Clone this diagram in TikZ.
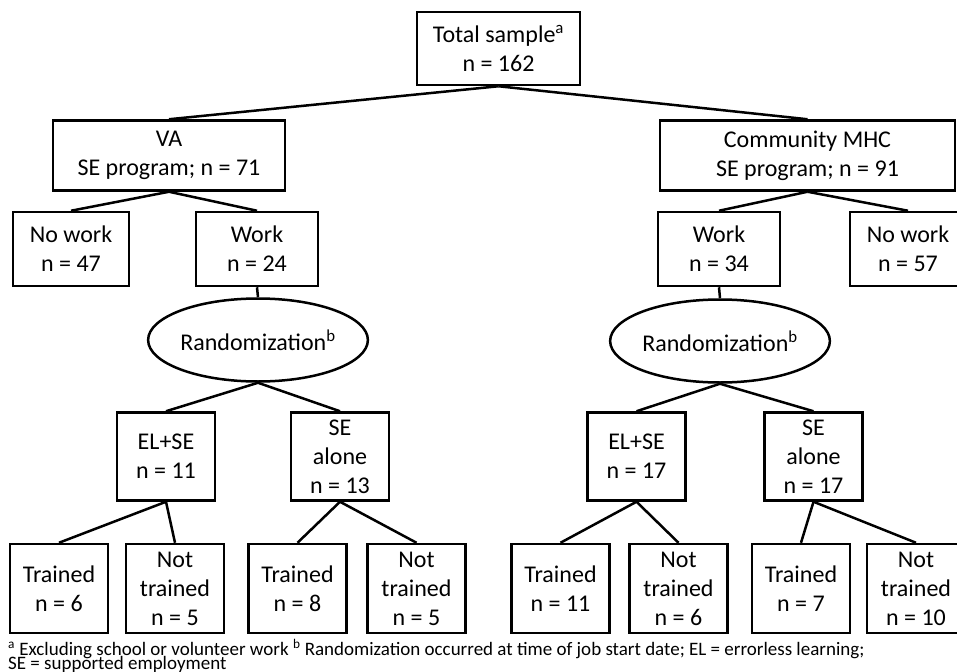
\documentclass[tikz,border=0pt]{standalone}
\usepackage{fontspec}
\setmainfont{Carlito}
\usetikzlibrary{shapes.geometric}
\tikzset{
  groupbox/.style={
    rectangle, draw=black, line width=2.5pt,
    minimum width=#1, minimum height=70pt,
    font=\fontsize{24}{29}\selectfont, align=center,
    inner sep=0pt
  },
  groupbox/.default=232pt,
  workbox/.style={
    rectangle, draw=black, line width=2.5pt,
    minimum width=#1, minimum height=74pt,
    font=\fontsize{24}{29}\selectfont, align=center,
    inner sep=0pt
  },
  workbox/.default=120pt,
  armbox/.style={
    rectangle, draw=black, line width=2.5pt,
    minimum width=98pt, minimum height=#1,
    font=\fontsize{24}{29}\selectfont, align=center,
    inner sep=0pt
  },
  armbox/.default=88pt,
  randnode/.style={
    ellipse, draw=black, line width=2.5pt,
    minimum width=194pt, minimum height=83pt,
    font=\fontsize{24}{29}\selectfont, inner sep=0pt
  },
  link/.style={line width=2.5pt},
  footnode/.style={
    anchor=base west, inner sep=0pt,
    font=\fontsize{19}{14}\selectfont
  },
}

\begin{document}
\begin{tikzpicture}[x=1pt, y=-1pt]
  \useasboundingbox (0,0) rectangle (957,671);
  \clip (0,0) rectangle (957,671);

  % Total sample
  \node[groupbox=163pt, minimum height=73pt] (total) at (498.5,48.5)
    {Total sample\textsuperscript{a}\\n = 162};

  % Programs
  \node[groupbox] (va) at (169,155.5) {VA\\SE program; n = 71};
  \node[groupbox=295pt] (mhc) at (807.5,155.5) {Community MHC\\SE program; n = 91};

  % Work / no work
  \node[workbox=116pt] (vanowork) at (71,249) {No work\\n = 47};
  \node[workbox=122pt] (vawork) at (257,249) {Work\\n = 24};
  \node[workbox=122pt] (mhcwork) at (719,249) {Work\\n = 34};
  \node[workbox=116pt] (mhcnowork) at (908,249) {No work\\n = 57};

  % Randomization
  \node[randnode] (varand) at (258,340) {Randomization\textsuperscript{b}};
  \node[randnode] (mhcrand) at (720,341) {Randomization\textsuperscript{b}};

  % Arms
  \node[armbox] (vael) at (166,456.5) {EL+SE\\n = 11};
  \node[armbox] (vase) at (340,456.5) {SE\\alone\\n = 13};
  \node[armbox] (mhcel) at (636.5,456.5) {EL+SE\\n = 17};
  \node[armbox] (mhcse) at (813.5,456.5) {SE\\alone\\n = 17};

  % Training outcome
  \node[armbox=89pt] (vaeltr) at (59,588.5) {Trained\\n = 6};
  \node[armbox=89pt] (vaelnt) at (175,588.5) {Not\\trained\\n = 5};
  \node[armbox=89pt] (vasetr) at (297.5,588.5) {Trained\\n = 8};
  \node[armbox=89pt] (vasent) at (416.5,588.5) {Not\\trained\\n = 5};
  \node[armbox=89pt] (mhceltr) at (560.5,588.5) {Trained\\n = 11};
  \node[armbox=89pt] (mhcelnt) at (678.5,588.5) {Not\\trained\\n = 6};
  \node[armbox=89pt] (mhcsetr) at (801,588.5) {Trained\\n = 7};
  \node[armbox=89pt] (mhcsent) at (916,588.5) {Not\\trained\\n = 10};

  % Connectors
  \foreach \p/\c in {total/va, total/mhc,
                     va/vanowork, va/vawork, mhc/mhcwork, mhc/mhcnowork,
                     vawork/varand, mhcwork/mhcrand,
                     varand/vael, varand/vase, mhcrand/mhcel, mhcrand/mhcse,
                     vael/vaeltr, vael/vaelnt, vase/vasetr, vase/vasent,
                     mhcel/mhceltr, mhcel/mhcelnt, mhcse/mhcsetr, mhcse/mhcsent} {
    \draw[link] (\p.south) -- (\c.north);
  }

  % Footnote
  \node[footnode] (foot1) at (8,655)
    {\textsuperscript{a} Excluding school or volunteer work \textsuperscript{b} Randomization occurred at time of job start date; EL = errorless learning;};
  \node[footnode] (foot2) at (8,669) {SE = supported employment};
\end{tikzpicture}
\end{document}
